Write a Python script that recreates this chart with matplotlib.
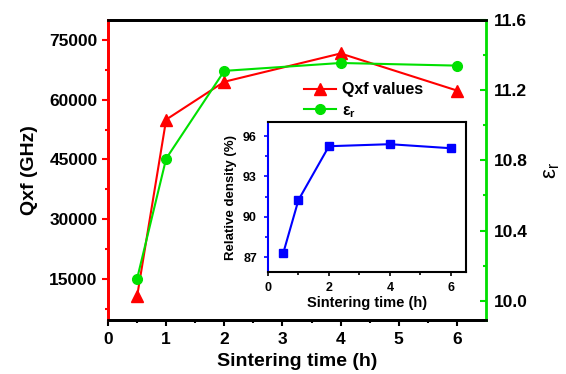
import numpy as np
import matplotlib
matplotlib.use("Agg")
import matplotlib.pyplot as plt

plt.rcParams['font.family'] = ['Liberation Sans', 'DejaVu Sans']
plt.rcParams['font.weight'] = 'bold'

# data
time = [0.5, 1, 2, 4, 6]
qxf = [10600, 55000, 64500, 71600, 62300]
eps_r = [10.125, 10.81, 11.31, 11.355, 11.34]
density = [87.3, 91.25, 95.25, 95.4, 95.1]

fig = plt.figure(figsize=(5.66, 3.74), dpi=100)
ax = fig.add_axes([108/566, 1-320/374, 378/566, 300/374])
ax2 = ax.twinx()

l1, = ax.plot(time, qxf, '-^', color='#ff0000', ms=8, lw=1.5, label='Qxf values')
l2, = ax2.plot(time, eps_r, '-o', color='#00e000', ms=7, lw=1.5, label=r'$\mathregular{\varepsilon_r}$')

ax.set_xlim(0, 6.5)
ax.set_ylim(4700, 80000)
ax2.set_ylim(9.89, 11.6)
ax.set_xticks(range(7))
ax.set_xticks(np.arange(0.5, 6.5, 1), minor=True)
ax.set_yticks([15000, 30000, 45000, 60000, 75000])
ax.set_yticks(np.arange(7500, 80000, 15000), minor=True)
ax2.set_yticks([10.0, 10.4, 10.8, 11.2, 11.6])
ax2.set_yticks([10.2, 10.6, 11.0, 11.4], minor=True)

ax.spines['left'].set_color('#ff0000')
ax.spines['left'].set_linewidth(2)
ax2.spines['left'].set_color('#ff0000')
ax2.spines['left'].set_linewidth(2)
ax2.spines['right'].set_color('#00e000')
ax2.spines['right'].set_linewidth(2)
for a in (ax, ax2):
    a.spines['top'].set_linewidth(2)
    a.spines['bottom'].set_linewidth(2)

ax.tick_params(axis='both', which='major', direction='out', length=4, width=1.5, labelsize=12.5)
ax.tick_params(axis='both', which='minor', direction='out', length=2, width=1.5)
ax.tick_params(axis='x', which='major', pad=5)
ax.tick_params(axis='y', which='both', colors='#ff0000', labelcolor='black')
ax2.tick_params(axis='y', which='major', direction='in', length=4, width=1.5, labelsize=12.5,
                colors='#00e000', labelcolor='black', pad=6)
ax2.tick_params(axis='y', which='minor', direction='in', length=2, width=1.5, colors='#00e000')

ax.set_xlabel('Sintering time (h)', fontsize=14, fontweight='bold', labelpad=4)
ax.set_ylabel('Qxf (GHz)', fontsize=14, fontweight='bold', labelpad=8)
ax2.set_ylabel(r'$\mathregular{\varepsilon_r}$', fontsize=16, labelpad=9)

ax.legend([l1, l2], ['Qxf values', r'$\mathregular{\varepsilon_r}$'], loc='upper left',
          bbox_to_anchor=(0.48, 0.84), frameon=False, fontsize=11.5, handlelength=2.0,
          handletextpad=0.4, labelspacing=0.35)

# inset
axi = fig.add_axes([268/566, 1-272/374, 198/566, 150/374])
axi.plot(time, density, '-s', color='#0000ff', ms=6, lw=1.5)
axi.set_xlim(0, 6.5)
axi.set_ylim(85.9, 97.05)
axi.set_xticks([0, 2, 4, 6])
axi.set_xticks([1, 3, 5], minor=True)
axi.set_yticks([87, 90, 93, 96])
axi.set_yticks([88.5, 91.5, 94.5], minor=True)
for s in axi.spines.values():
    s.set_linewidth(1.5)
axi.spines['left'].set_color('#0000ff')
axi.tick_params(axis='both', which='major', direction='out', length=3, width=1.2, labelsize=9)
axi.tick_params(axis='both', which='minor', direction='out', length=2, width=1.2)
axi.tick_params(axis='y', which='both', colors='#0000ff', labelcolor='black', pad=5)
axi.tick_params(axis='x', which='major', pad=4)
axi.set_xlabel('Sintering time (h)', fontsize=10.5, fontweight='bold', labelpad=2)
axi.set_ylabel('Relative density (%)', fontsize=9.5, fontweight='bold', labelpad=4)

fig.savefig('out.png', dpi=100)
